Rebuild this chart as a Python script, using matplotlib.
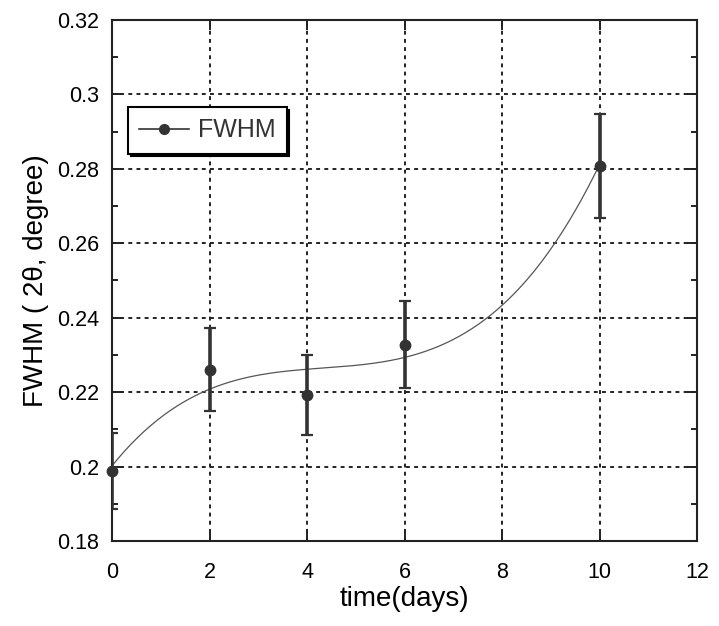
import numpy as np
import matplotlib
matplotlib.use("Agg")
import matplotlib.pyplot as plt
from matplotlib.lines import Line2D
from matplotlib.ticker import MultipleLocator

plt.rcParams['font.family'] = ['Liberation Sans', 'DejaVu Sans']

days = [0, 2, 4, 6, 10]
fwhm = [0.1988, 0.2260, 0.2192, 0.2328, 0.2808]
err = [0.0101, 0.0112, 0.0108, 0.0117, 0.0140]
xticks = [0, 2, 4, 6, 8, 10, 12]
yticks = [0.18, 0.2, 0.22, 0.24, 0.26, 0.28, 0.3, 0.32]
ytick_labels = ['0.18', '0.2', '0.22', '0.24', '0.26', '0.28', '0.3', '0.32']

fig = plt.figure(figsize=(7.19, 6.26), dpi=100)
ax = fig.add_axes([112/719, 1-541/626, (697-112)/719, (541-20)/626])

# smooth cubic fit curve
coef = np.polyfit(days, fwhm, 3)
xs = np.linspace(min(days), max(days), 300)
ax.plot(xs, np.polyval(coef, xs), color='#555555', lw=0.9, zorder=3)

ax.errorbar(days, fwhm, yerr=err, fmt='none', ecolor='#333333',
            elinewidth=2.6, capsize=4, capthick=1.6, zorder=4)
ax.plot(days, fwhm, 'o', color='#333333', ms=7.5, zorder=5, clip_on=False)

ax.set_xlim(0, 12)
ax.set_ylim(0.18, 0.32)
ax.set_xticks(xticks)
ax.set_yticks(yticks)
ax.set_yticklabels(ytick_labels)
ax.yaxis.set_minor_locator(MultipleLocator(0.01))
ax.grid(True, which='major', color='#222222', ls=(0, (2, 2.2)), lw=1.4)
ax.tick_params(which='both', direction='in', top=True, right=True,
               labelsize=15.5, width=1.4, colors='#222222')
ax.tick_params(axis='x', which='major', pad=15)
ax.tick_params(axis='y', which='major', pad=9)
ax.tick_params(which='major', length=7)
ax.tick_params(which='minor', length=4)
for lab in ax.get_xticklabels() + ax.get_yticklabels():
    lab.set_color('black')
for s in ax.spines.values():
    s.set_linewidth(1.5)
    s.set_color('#222222')

ax.set_xlabel('time(days)', fontsize=20, labelpad=2)
ax.set_ylabel('FWHM ( 2θ, degree)', fontsize=20, labelpad=6)

handle = Line2D([], [], color='#333333', marker='o', ms=7, lw=1.2)
leg = ax.legend([handle], ['FWHM'], loc='upper left',
                bbox_to_anchor=(0.027, 0.833), fontsize=18, frameon=True,
                fancybox=False, edgecolor='black', handlelength=2.0,
                handletextpad=0.35, borderpad=0.45, borderaxespad=0,
                shadow={'color': 'black', 'alpha': 1}, framealpha=1)
leg.get_frame().set_linewidth(1.5)
leg.get_texts()[0].set_color('#333333')

fig.savefig('out.png', dpi=100)
